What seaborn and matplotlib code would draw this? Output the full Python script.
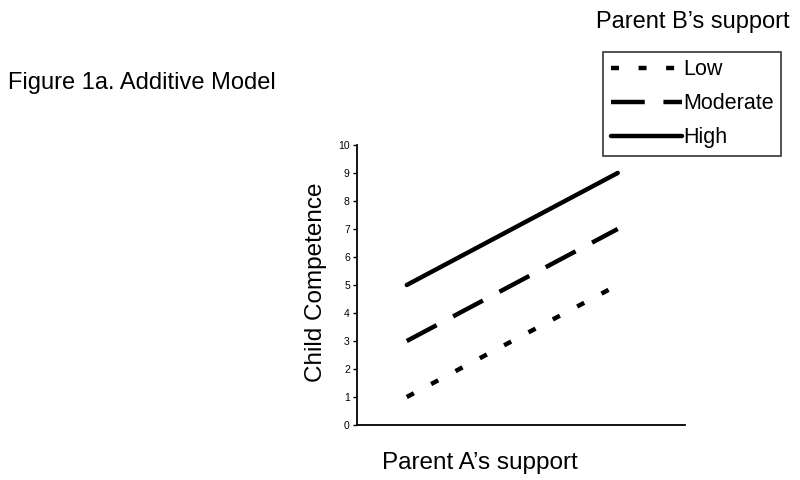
import matplotlib
matplotlib.use("Agg")
import matplotlib.pyplot as plt
import seaborn as sns
import pandas as pd
from matplotlib.lines import Line2D

# Data
parent_a = [1, 2]            # low / high Parent A's support
groups = ["Low", "Moderate", "High"]
low_vals = [1, 5]
moderate_vals = [3, 7]
high_vals = [5, 9]
yticks = list(range(0, 11))

df = pd.DataFrame({
    "x": parent_a * 3,
    "y": low_vals + moderate_vals + high_vals,
    "group": ["Low"] * 2 + ["Moderate"] * 2 + ["High"] * 2,
})

sns.set_style("white")
plt.rcParams["font.family"] = ["Liberation Sans", "DejaVu Sans"]
plt.rcParams["text.color"] = "black"
plt.rcParams["axes.labelcolor"] = "black"
plt.rcParams["lines.dash_capstyle"] = "butt"

fig = plt.figure(figsize=(8, 4.8), dpi=100)
ax = fig.add_axes([0.446, 0.1146, 0.41, 0.5834])

dash_map = {"Low": (1.8, 4.4), "Moderate": (7.6, 4.2), "High": ""}
sns.lineplot(data=df, x="x", y="y", style="group", dashes=dash_map,
             color="black", linewidth=3.2, ax=ax, legend=False,
             style_order=groups)

ax.set_xlim(0.763, 2.318)
ax.set_ylim(0, 10)
ax.set_xticks([])
ax.set_yticks(yticks)
ax.set_yticklabels([str(v) for v in yticks], fontsize=7.5)
ax.tick_params(axis="y", direction="out", length=3, width=1, left=True, pad=2, colors="black")
for s in ["top", "right"]:
    ax.spines[s].set_visible(False)
for s in ["left", "bottom"]:
    ax.spines[s].set_color("black")
    ax.spines[s].set_linewidth(1.3)

ax.set_ylabel("Child Competence", fontsize=17.5)
ax.yaxis.set_label_coords(-0.09, 0.51)
ax.set_xlabel("Parent A\u2019s support", fontsize=17.5)
ax.xaxis.set_label_coords(0.375, -0.095)

fig.text(0.01, 0.827, "Figure 1a. Additive Model", fontsize=17, va="center", ha="left")
fig.text(0.866, 0.954, "Parent B\u2019s support", fontsize=17, va="center", ha="center")

handles = [
    Line2D([], [], color="black", linewidth=3.2, dashes=(1.8, 4.4), dash_capstyle="butt"),
    Line2D([], [], color="black", linewidth=3.2, dashes=(7.6, 4.2), dash_capstyle="butt"),
    Line2D([], [], color="black", linewidth=3.2),
]
leg = fig.legend(handles, groups, loc="upper left", bbox_to_anchor=(0.754, 0.892),
                 fontsize=15.5, frameon=True, fancybox=False, handlelength=3.3,
                 handletextpad=0.05, borderpad=0.35, labelspacing=0.6,
                 borderaxespad=0, edgecolor="black")
leg.get_frame().set_linewidth(1.2)
for t in leg.get_texts():
    t.set_color("black")

fig.savefig("out.png", dpi=100)
